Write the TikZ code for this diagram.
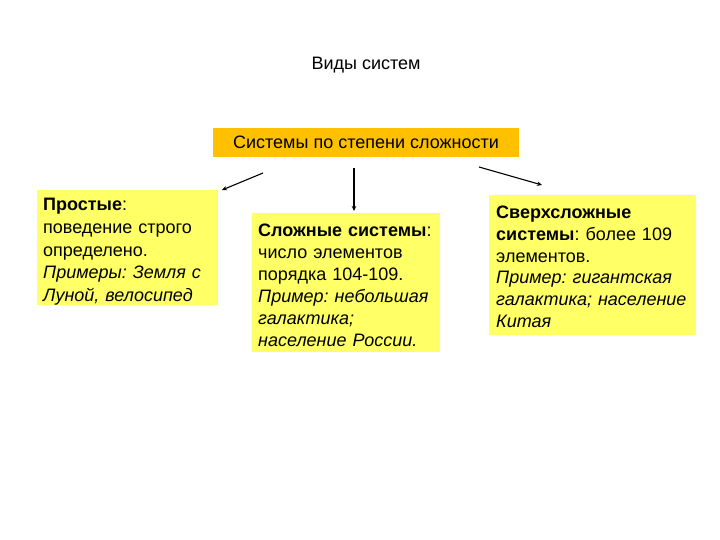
\documentclass[tikz,border=0pt]{standalone}
\usepackage{fontspec}
\setmainfont{Liberation Sans}
\usetikzlibrary{arrows.meta}
\definecolor{boxyellow}{HTML}{FFFF66}
\definecolor{boxorange}{HTML}{FFC000}
\tikzset{
  conn/.style={-{Stealth[length=5pt,width=4.5pt]}, line width=1.1pt}
}
\begin{document}
\frenchspacing
\begin{tikzpicture}[x=1pt,y=-1pt]
\useasboundingbox (0,0) rectangle (720,540);
\node (title) at (366,65) {\fontsize{18}{20}\selectfont Виды систем};
\node[fill=boxorange, minimum width=306pt, minimum height=29pt, inner sep=0pt,
  font=\fontsize{18}{20}\selectfont] (top) at (366,142.5) {Системы по степени сложности};
% boxes
\fill[boxyellow] (37,190) rectangle (218,305);
\fill[boxyellow] (252,213) rectangle (440,352);
\fill[boxyellow] (489,195) rectangle (696,335);
\node[anchor=north west, align=left, inner sep=0pt, text width=178pt,
  font=\fontsize{18}{22.8}\selectfont] (s1) at (43,198)
  {\textbf{Простые}:\\ поведение строго\\ определено.\\ \textit{Примеры: Земля с}\\ \textit{Луной, велосипед}};
\node[anchor=north west, align=left, inner sep=0pt, text width=185pt,
  font=\fontsize{18}{22}\selectfont] (s2) at (258,224)
  {\textbf{Сложные системы}:\\ число элементов\\ порядка 104-109.\\ \textit{Пример: небольшая}\\ \textit{галактика;}\\ \textit{население России.}};
\node[anchor=north west, align=left, inner sep=0pt, text width=205pt,
  font=\fontsize{18}{21.7}\selectfont] (s3) at (496,206)
  {\textbf{Сверхсложные}\\ \textbf{системы}: более 109\\ элементов.\\ \textit{Пример: гигантская}\\ \textit{галактика; население}\\ \textit{Китая}};
\coordinate (a1s) at (263,173);
\coordinate (a1e) at (222,190);
\coordinate (a2s) at (354,168);
\coordinate (a2e) at (354,211);
\coordinate (a3s) at (479,167);
\coordinate (a3e) at (542,185);
\draw[conn] (a1s) -- (a1e);
\draw[conn] (a2s) -- (a2e);
\draw[conn] (a3s) -- (a3e);
\end{tikzpicture}
\end{document}
